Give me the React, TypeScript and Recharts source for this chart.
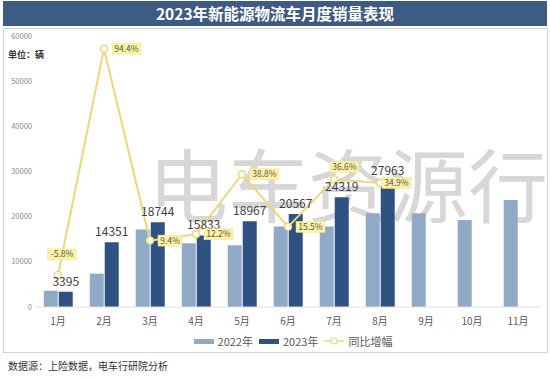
import React from 'react';
import { ComposedChart, Bar, Line, XAxis, YAxis, LabelList } from 'recharts';

const months = ['1月', '2月', '3月', '4月', '5月', '6月', '7月', '8月', '9月', '10月', '11月'];
const sales2022 = [3604, 7382, 17133, 14111, 13665, 17807, 17803, 20729, 20750, 19260, 23690];
const sales2023 = [3395, 14351, 18744, 15833, 18967, 20567, 24319, 27963, null, null, null];
const yoy = [-5.8, 94.4, 9.4, 12.2, 38.8, 15.5, 36.6, 34.9, null, null, null];
const yTicks = [0, 10000, 20000, 30000, 40000, 50000, 60000];

const FONT = '"Noto Sans CJK SC", "Noto Sans", sans-serif';
const C2022 = '#8fa9c6';
const C2023 = '#2f5283';
const CLINE = '#eed67a';

const data = months.map((m, i) => ({
  month: m,
  y2022: sales2022[i],
  y2023: sales2023[i],
  yoy: yoy[i],
}));

const YoyLabel = (props: any) => {
  const { x, y, value, index } = props;
  if (value == null) return null;
  const text = `${value}%`;
  const w = text.length * 5 + 4;
  const h = 11;
  // Jan and Jul labels sit above the point, the rest to the right
  let bx = x + 8;
  let by = y - h / 2;
  if (index === 0) {
    bx = x - w / 2 + 4;
    by = y - 26;
  } else if (index === 6) {
    bx = x - 4;
    by = y - 18;
  } else if (index === 7) {
    bx = x + 2;
  }
  return (
    <g>
      <rect x={bx} y={by} width={w} height={h} fill="#fbf2a6" stroke="#efe39a" strokeWidth={0.5} />
      <text
        x={bx + w / 2}
        y={by + h / 2 + 3}
        textAnchor="middle"
        fontSize={8.5}
        fill="#5a5a4a"
        fontFamily={FONT}
      >
        {text}
      </text>
    </g>
  );
};

const App: React.FC = () => {
  return (
    <div style={{ position: 'absolute', left: 0, top: 0, width: 550, height: 378, background: '#fff', fontFamily: FONT }}>
      <div
        style={{
          position: 'absolute',
          left: 3,
          top: 1,
          width: 544,
          height: 25,
          background: '#3d5b83',
          color: '#fff',
          fontWeight: 700,
          fontSize: 15.5,
          lineHeight: '25px',
          textAlign: 'center',
        }}
      >
        2023年新能源物流车月度销量表现
      </div>
      <div
        style={{
          position: 'absolute',
          left: 3,
          top: 28,
          width: 543,
          height: 323,
          border: '1px solid #d4d4d4',
        }}
      />
      <div
        style={{
          position: 'absolute',
          left: 148,
          top: 126,
          fontSize: 80,
          lineHeight: '110px',
          color: 'rgba(160,160,160,0.42)',
          whiteSpace: 'nowrap',
        }}
      >
        电车资源行
      </div>
      <div style={{ position: 'absolute', left: 8, top: 48, fontSize: 9, color: '#333', fontWeight: 700 }}>单位：辆</div>
      <div style={{ position: 'absolute', left: 0, top: 0 }}>
        <ComposedChart
          width={550}
          height={378}
          data={data}
          margin={{ top: 36, right: 9, left: 5, bottom: 51 }}
          barCategoryGap="19%"
          barGap={1}
        >
          <XAxis
            dataKey="month"
            axisLine={{ stroke: '#e0e0e0' }}
            tickLine={false}
            tickSize={0}
            tickMargin={11}
            height={20}
            tick={{ fontSize: 10, fill: '#595959', fontFamily: FONT }}
            interval={0}
          />
          <YAxis
            yAxisId="left"
            domain={[0, 60000]}
            ticks={yTicks}
            width={30}
            axisLine={false}
            tickLine={false}
            tickSize={0}
            tickMargin={3}
            tick={{ fontSize: 7.5, fill: '#8a8a8a', fontFamily: FONT }}
          />
          <YAxis yAxisId="right" orientation="right" domain={[-20, 100]} hide />
          <Bar yAxisId="left" dataKey="y2022" fill={C2022} isAnimationActive={false} />
          <Bar yAxisId="left" dataKey="y2023" fill={C2023} isAnimationActive={false}>
            <LabelList dataKey="y2023" position="top" offset={6} fontSize={12} fill="#404040" fontFamily={FONT} />
          </Bar>
          <Line
            yAxisId="right"
            dataKey="yoy"
            stroke={CLINE}
            strokeWidth={2}
            dot={{ r: 3.5, fill: '#fff', stroke: CLINE, strokeWidth: 1.5 }}
            isAnimationActive={false}
            connectNulls={false}
          >
            <LabelList dataKey="yoy" content={<YoyLabel />} />
          </Line>
        </ComposedChart>
      </div>
      <div
        style={{
          position: 'absolute',
          left: 0,
          top: 334,
          width: 550,
          height: 14,
          display: 'flex',
          justifyContent: 'center',
          alignItems: 'center',
          fontSize: 11,
          color: '#595959',
          paddingLeft: 36,
          boxSizing: 'border-box',
        }}
      >
        <span style={{ display: 'inline-block', width: 20, height: 5, background: C2022, marginRight: 4 }} />
        <span style={{ marginRight: 6 }}>2022年</span>
        <span style={{ display: 'inline-block', width: 20, height: 5, background: C2023, marginRight: 4 }} />
        <span style={{ marginRight: 6 }}>2023年</span>
        <svg width={20} height={10} style={{ marginRight: 4 }}>
          <line x1={0} y1={5} x2={20} y2={5} stroke={CLINE} strokeWidth={1.5} />
          <circle cx={10} cy={5} r={3} fill="#fff" stroke={CLINE} strokeWidth={1.2} />
        </svg>
        <span>同比增幅</span>
      </div>
      <div style={{ position: 'absolute', left: 8, top: 358, fontSize: 10, color: '#333' }}>
        数据源：上险数据，电车行研院分析
      </div>
    </div>
  );
};

export default App;
